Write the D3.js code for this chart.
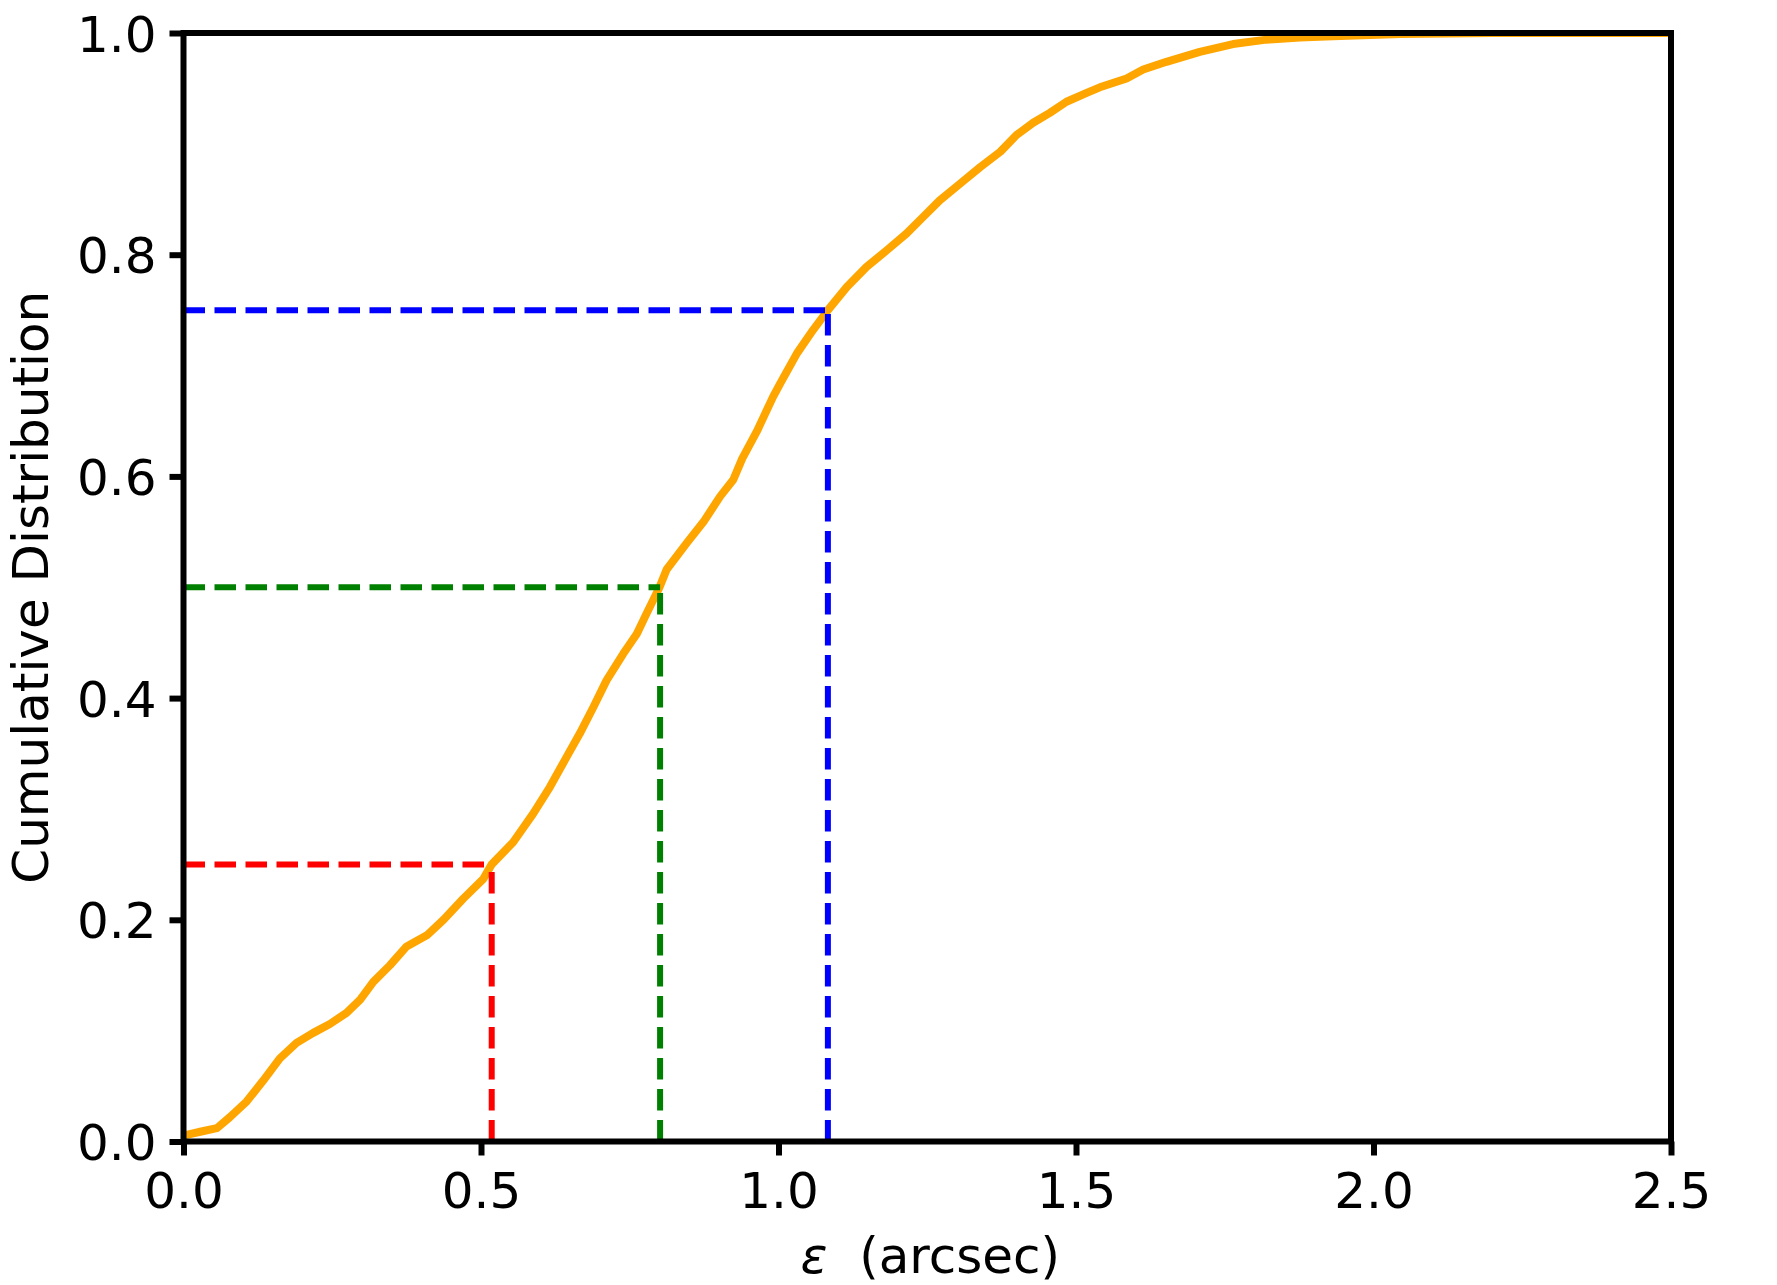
<!DOCTYPE html>
<html>
<head>
<meta charset="utf-8">
<script src="https://cdn.jsdelivr.net/npm/d3@7"></script>
<style>
  html, body { margin: 0; padding: 0; background: #fff; }
  svg { display: block; font-family: "DejaVu Sans", sans-serif; }
</style>
</head>
<body>
<svg id="chart" width="1777" height="1285"></svg>
<script>
// ---- data ----
const cdfX = [0.0, 0.005, 0.03, 0.056, 0.078, 0.106, 0.134, 0.162, 0.19, 0.218, 0.246, 0.274, 0.297, 0.319, 0.347, 0.375, 0.409, 0.437, 0.47, 0.504, 0.518, 0.554, 0.588, 0.616, 0.644, 0.666, 0.689, 0.711, 0.739, 0.762, 0.778, 0.80, 0.812, 0.846, 0.874, 0.902, 0.924, 0.939, 0.964, 0.991, 1.003, 1.031, 1.058, 1.083, 1.115, 1.148, 1.182, 1.215, 1.243, 1.271, 1.305, 1.339, 1.373, 1.4, 1.428, 1.456, 1.484, 1.518, 1.54, 1.585, 1.613, 1.652, 1.708, 1.764, 1.82, 1.876, 1.932, 2.045, 2.2, 2.5];
const cdfY = [0.004, 0.006, 0.009, 0.012, 0.022, 0.036, 0.055, 0.075, 0.089, 0.098, 0.106, 0.116, 0.128, 0.144, 0.159, 0.176, 0.186, 0.2, 0.219, 0.237, 0.25, 0.270, 0.296, 0.32, 0.347, 0.368, 0.392, 0.416, 0.44, 0.458, 0.476, 0.50, 0.516, 0.54, 0.559, 0.582, 0.597, 0.616, 0.641, 0.672, 0.684, 0.711, 0.732, 0.75, 0.771, 0.789, 0.804, 0.819, 0.834, 0.849, 0.864, 0.879, 0.893, 0.908, 0.919, 0.928, 0.938, 0.946, 0.951, 0.959, 0.967, 0.974, 0.983, 0.990, 0.994, 0.996, 0.997, 0.999, 1.0, 1.0];

const quartileX = [0.518, 0.801, 1.083];
const quartileY = [0.25, 0.5, 0.75];
const quartileColors = ["#ff0000", "#008000", "#0000ff"];

const xTicks = [0.0, 0.5, 1.0, 1.5, 2.0, 2.5];
const yTicks = [0.0, 0.2, 0.4, 0.6, 0.8, 1.0];

const xLabelSymbol = "ε";
const xLabelText = "  (arcsec)";
const yLabelText = "Cumulative Distribution";

// ---- layout ----
const W = 1777, H = 1285;
const plot = { left: 183.5, right: 1671, top: 33, bottom: 1141.5 };
const tickFont = 50, labelFont = 50;

const svg = d3.select("#chart");
const x = d3.scaleLinear().domain([0, 2.5]).range([plot.left, plot.right]);
const y = d3.scaleLinear().domain([0, 1]).range([plot.bottom, plot.top]);

svg.append("defs").append("clipPath").attr("id", "clip")
  .append("rect")
  .attr("x", plot.left).attr("y", plot.top)
  .attr("width", plot.right - plot.left).attr("height", plot.bottom - plot.top);

const g = svg.append("g").attr("clip-path", "url(#clip)");

// curve
const pts = cdfX.map((v, i) => [v, cdfY[i]]);
g.append("path")
  .datum(pts)
  .attr("fill", "none")
  .attr("stroke", "#ffa500")
  .attr("stroke-width", 8)
  .attr("stroke-linejoin", "round")
  .attr("d", d3.line().x(d => x(d[0])).y(d => y(d[1])));

// quartile dashed lines
const dash = "21.5,9.5";
quartileX.forEach((qx, i) => {
  g.append("line")
    .attr("x1", x(0)).attr("x2", x(qx))
    .attr("y1", y(quartileY[i])).attr("y2", y(quartileY[i]))
    .attr("stroke", quartileColors[i]).attr("stroke-width", 6)
    .attr("stroke-dasharray", dash);
  g.append("line")
    .attr("x1", x(qx)).attr("x2", x(qx))
    .attr("y1", y(0)).attr("y2", y(quartileY[i]))
    .attr("stroke", quartileColors[i]).attr("stroke-width", 6)
    .attr("stroke-dasharray", dash);
});

// axes
const xAxis = d3.axisBottom(x).tickValues(xTicks).tickFormat(d3.format(".1f"))
  .tickSize(14).tickPadding(10);
const yAxis = d3.axisLeft(y).tickValues(yTicks).tickFormat(d3.format(".1f"))
  .tickSize(14).tickPadding(13);

const gx = svg.append("g").attr("transform", `translate(0,${plot.bottom})`).call(xAxis);
const gy = svg.append("g").attr("transform", `translate(${plot.left},0)`).call(yAxis);
[gx, gy].forEach(a => {
  a.select(".domain").remove();
  a.selectAll(".tick line").attr("stroke", "#000").attr("stroke-width", 6);
  a.selectAll(".tick text")
    .attr("fill", "#000")
    .style("font-family", "'DejaVu Sans', sans-serif")
    .style("font-size", tickFont + "px");
});
gx.selectAll(".tick text").attr("dy", null).attr("y", 66);
gy.selectAll(".tick text").attr("dy", "0.36em");

// frame
svg.append("rect")
  .attr("x", plot.left).attr("y", plot.top)
  .attr("width", plot.right - plot.left).attr("height", plot.bottom - plot.top)
  .attr("fill", "none").attr("stroke", "#000").attr("stroke-width", 6);

// labels
const xl = svg.append("text")
  .attr("x", (plot.left + plot.right) / 2 + 3).attr("y", 1273)
  .attr("text-anchor", "middle")
  .style("font-size", labelFont + "px")
  .style("white-space", "pre")
  .attr("xml:space", "preserve");
xl.append("tspan").style("font-style", "italic").text(xLabelSymbol);
xl.append("tspan").text(xLabelText);

svg.append("text")
  .attr("transform", `translate(48,${(plot.top + plot.bottom) / 2}) rotate(-90)`)
  .attr("text-anchor", "middle")
  .style("font-size", labelFont + "px")
  .text(yLabelText);
</script>
</body>
</html>
